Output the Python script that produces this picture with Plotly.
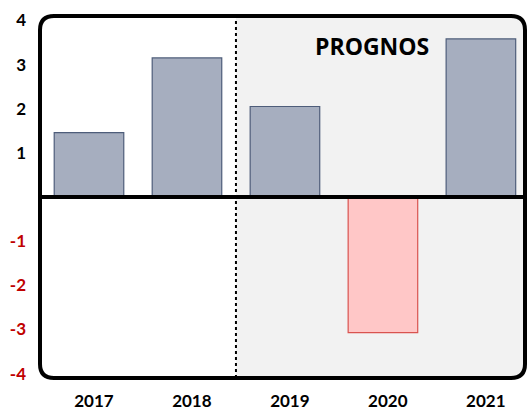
import plotly.graph_objects as go

years = ["2017", "2018", "2019", "2020", "2021"]
values = [1.46, 3.15, 2.05, -3.07, 3.58]
ytick_vals = [-4, -3, -2, -1, 1, 2, 3, 4]
ytick_text = ["-4", "-3", "-2", "-1", "1", "2", "3", "4"]

NEG_RED = "#C00000"
FONT = "Lato"

fill = ["#FFC7C7" if v < 0 else "#A6AEBF" for v in values]
edge = ["#D9534F" if v < 0 else "#4E5D7A" for v in values]

fig = go.Figure()
fig.add_trace(go.Bar(
    x=list(range(len(years))), y=values, width=0.71,
    marker=dict(color=fill, line=dict(color=edge, width=1.2)),
    hoverinfo="skip",
))

# pixel geometry of the plot area (for rounded corners)
W, H = 485, 362
r = 14
rx, ry = r / W, r / H

# rounded frame, paper coords
frame = (f"M {rx},1 L {1-rx},1 Q 1,1 1,{1-ry} L 1,{ry} Q 1,0 {1-rx},0 "
         f"L {rx},0 Q 0,0 0,{ry} L 0,{1-ry} Q 0,1 {rx},1 Z")

# shaded forecast area from the 2018/2019 boundary to the right edge
x0 = (1.5 + 0.5) / 4.95
shade = (f"M {x0},1 L {1-rx},1 Q 1,1 1,{1-ry} L 1,{ry} Q 1,0 {1-rx},0 "
         f"L {x0},0 Z")

fig.add_shape(type="path", path=shade, xref="paper", yref="paper",
              fillcolor="#F2F2F2", line=dict(width=0), layer="below")
fig.add_shape(type="line", x0=1.5, x1=1.5, y0=0, y1=1, xref="x", yref="paper",
              line=dict(color="black", width=2, dash="dot"), layer="above")
fig.add_shape(type="line", x0=0, x1=1, y0=0, y1=0, xref="paper", yref="y",
              line=dict(color="black", width=4), layer="above")
fig.add_shape(type="path", path=frame, xref="paper", yref="paper",
              line=dict(color="black", width=4), layer="above")

fig.add_annotation(x=2.89, y=3.43, xref="x", yref="y", text="PROGNOS",
                   showarrow=False, xanchor="center", yanchor="middle",
                   font=dict(family="Open Sans", size=23, color="black", weight="bold"))

ytext = [f"<span style='color:{NEG_RED}'>{t}</span>" if v < 0 else t
         for v, t in zip(ytick_vals, ytick_text)]

fig.update_layout(
    width=527, height=410,
    margin=dict(l=40, r=2, t=16, b=32),
    paper_bgcolor="white", plot_bgcolor="rgba(0,0,0,0)",
    showlegend=False,
    font=dict(family=FONT, size=17, color="black", weight="bold"),
    # year labels sit a touch right of the bar centres, as in the source
    xaxis=dict(range=[-0.5, 4.45], tickmode="array",
               tickvals=[i + 0.05 for i in range(len(years))],
               ticktext=years, showgrid=False, zeroline=False, showline=False,
               ticks="", ticklabelstandoff=11, automargin=False),
    yaxis=dict(range=[-4.1, 4.1], tickmode="array", tickvals=ytick_vals,
               ticktext=ytext, showgrid=False, zeroline=False, showline=False,
               ticks="", ticklabelstandoff=13, automargin=False),
)

fig.write_html("out.html", config={"displayModeBar": False},
               post_script="document.body.style.margin='0';")
